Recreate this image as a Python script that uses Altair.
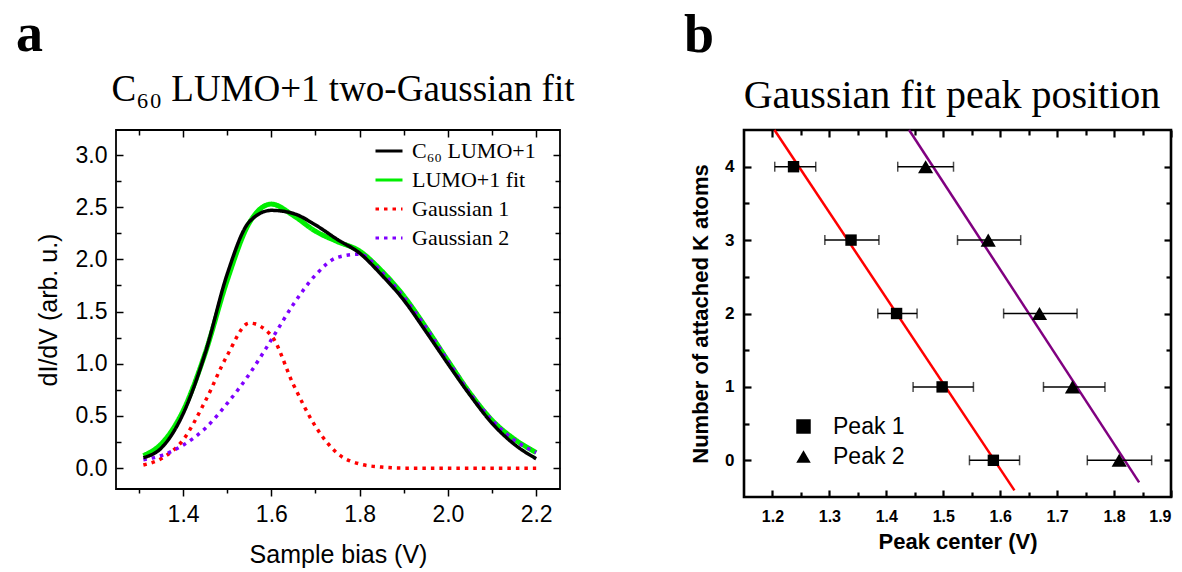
import altair as alt
import pandas as pd

# ---------------- Panel a data ----------------
bias_v = [1.31, 1.35, 1.40, 1.45, 1.50, 1.55, 1.60, 1.65, 1.70, 1.75,
          1.80, 1.85, 1.90, 1.95, 2.00, 2.05, 2.10, 2.15, 2.20]
lumo_measured = [0.10, 0.19, 0.52, 1.10, 1.86, 2.36, 2.47, 2.44, 2.33, 2.19,
                 2.06, 1.85, 1.61, 1.31, 1.00, 0.70, 0.43, 0.23, 0.09]
lumo_fit = [0.12, 0.23, 0.55, 1.10, 1.80, 2.35, 2.53, 2.42, 2.27, 2.17,
            2.08, 1.89, 1.65, 1.35, 1.03, 0.72, 0.46, 0.28, 0.15]
gauss_1 = [0.03, 0.09, 0.27, 0.64, 1.08, 1.39, 1.27, 0.80, 0.40, 0.14,
           0.04, 0.01, 0.0, 0.0, 0.0, 0.0, 0.0, 0.0, 0.0]
gauss_2 = [0.08, 0.12, 0.22, 0.38, 0.62, 0.90, 1.23, 1.57, 1.85, 2.02,
           2.05, 1.88, 1.64, 1.35, 1.03, 0.72, 0.46, 0.27, 0.15]

series_names = ["C\u2086\u2080 LUMO+1", "LUMO+1 fit", "Gaussian 1", "Gaussian 2"]
series_colors = ["#000000", "#00ee00", "#ff0000", "#8000ff"]
series_dash = [[1, 0], [1, 0], [3.5, 5], [3.5, 5]]

title_a = "C\u2086\u2080 LUMO+1 two-Gaussian fit"
title_b = "Gaussian fit peak position"

x_major_a = [1.4, 1.6, 1.8, 2.0, 2.2]
x_minor_a = [1.3, 1.5, 1.7, 1.9, 2.1]
y_major_a = [0.0, 0.5, 1.0, 1.5, 2.0, 2.5, 3.0]
y_minor_a = [0.25, 0.75, 1.25, 1.75, 2.25, 2.75]

# ---------------- Panel b data ----------------
k_atoms = [0, 1, 2, 3, 4]
peak1_center = [1.588, 1.498, 1.418, 1.338, 1.237]
peak1_lo = [1.546, 1.447, 1.385, 1.292, 1.204]
peak1_hi = [1.634, 1.553, 1.454, 1.387, 1.276]
peak2_center = [1.809, 1.727, 1.669, 1.579, 1.469]
peak2_lo = [1.753, 1.676, 1.606, 1.525, 1.420]
peak2_hi = [1.866, 1.784, 1.735, 1.636, 1.518]
fit1_x = [1.2035, 1.625]
fit1_y = [4.5, -0.41]
fit2_x = [1.440, 1.844]
fit2_y = [4.5, -0.30]
peak_names = ["Peak 1", "Peak 2"]

x_major_b = [1.2, 1.3, 1.4, 1.5, 1.6, 1.7, 1.8, 1.9]
x_minor_b = [1.25, 1.35, 1.45, 1.55, 1.65, 1.75, 1.85]
y_major_b = [0, 1, 2, 3, 4]
y_minor_b = [0.5, 1.5, 2.5, 3.5]

# ---------------- tables ----------------
rows = []
for name, vals in zip(series_names, [lumo_measured, lumo_fit, gauss_1, gauss_2]):
    for xv, yv in zip(bias_v, vals):
        rows.append({"series": name, "bias": xv, "didv": yv})
df_a = pd.DataFrame(rows)

rows = []
for name, c, lo, hi in [(peak_names[0], peak1_center, peak1_lo, peak1_hi),
                        (peak_names[1], peak2_center, peak2_lo, peak2_hi)]:
    for k, cv, l, h in zip(k_atoms, c, lo, hi):
        rows.append({"peak": name, "k": k, "center": cv, "lo": l, "hi": h})
df_b = pd.DataFrame(rows)

df_fit = pd.DataFrame(
    [{"peak": peak_names[0], "x": xv, "y": yv} for xv, yv in zip(fit1_x, fit1_y)]
    + [{"peak": peak_names[1], "x": xv, "y": yv} for xv, yv in zip(fit2_x, fit2_y)]
)


def tick_axis(orient, values, size, width, **kw):
    """Inward-pointing ticks (axis moved inside the frame by its tick length)."""
    params = dict(orient=orient, values=values, tickSize=size, offset=-size,
                  tickWidth=width, tickColor="black", domain=False, grid=False,
                  labels=False, title=None)
    params.update(kw)
    return alt.Axis(**params)


def text_layer(txt, x, y, font, size, weight):
    return alt.Chart(pd.DataFrame({"lab": [txt]})).mark_text(
        font=font, fontSize=size, fontWeight=weight, align="left" if len(txt) == 1 else "center",
        baseline="alphabetic", color="black"
    ).encode(x=alt.value(x), y=alt.value(y), text="lab:N")


# ================= Panel a =================
xs_a = alt.Scale(domain=[1.248, 2.254], nice=False, zero=False)
ys_a = alt.Scale(domain=[-0.2, 3.24], nice=False, zero=False)
color_scale = alt.Scale(domain=series_names, range=series_colors)
dash_scale = alt.Scale(domain=series_names, range=series_dash)
legend_a = alt.Legend(title=None, orient="none", legendX=258, legendY=6,
                      symbolType="stroke", symbolSize=729, symbolStrokeWidth=3,
                      labelFont="Liberation Serif", labelFontSize=22,
                      labelColor="black", labelOffset=8, rowPadding=3,
                      padding=0, labelLimit=300)

x_bottom_a = alt.Axis(orient="bottom", values=x_minor_a + x_major_a,
                      tickSize={"condition": {"test": "round(datum.value*10) % 2 == 0", "value": 7}, "value": 4},
                      tickWidth=1.5, tickColor="black", domain=False, grid=False,
                      labelExpr="round(datum.value*10) % 2 == 0 ? format(datum.value, '.1f') : ''",
                      labelFont="Liberation Sans", labelFontSize=23, labelColor="black",
                      labelPadding=7, title="Sample bias (V)", titleFont="Liberation Sans",
                      titleFontSize=25, titleFontWeight="normal", titleColor="black",
                      titlePadding=16)
y_left_a = tick_axis("left", y_major_a, 7, 1.5, labels=True, format=".1f",
                     labelFont="Liberation Sans", labelFontSize=23, labelColor="black",
                     labelPadding=9, title="dI/dV (arb. u.)", titleFont="Liberation Sans",
                     titleFontSize=25, titleFontWeight="normal", titleColor="black",
                     titlePadding=14)


def curve_layer(name, width, x_axis=None, y_axis=None):
    return alt.Chart(df_a).transform_filter(
        alt.datum.series == name
    ).mark_line(strokeWidth=width, interpolate="monotone", strokeCap="butt").encode(
        x=alt.X("bias:Q", scale=xs_a, axis=x_axis),
        y=alt.Y("didv:Q", scale=ys_a, axis=y_axis),
        color=alt.Color("series:N", scale=color_scale, legend=legend_a),
        strokeDash=alt.StrokeDash("series:N", scale=dash_scale, legend=legend_a),
    )


def ghost_a(x_axis, y_axis):
    return alt.Chart(df_a).mark_point(opacity=0).encode(
        x=alt.X("bias:Q", scale=xs_a, axis=x_axis),
        y=alt.Y("didv:Q", scale=ys_a, axis=y_axis),
    )


panel_a = alt.layer(
    curve_layer(series_names[1], 5, x_bottom_a, y_left_a),
    curve_layer(series_names[2], 3.5),
    curve_layer(series_names[3], 3.5),
    curve_layer(series_names[0], 3.5),
    ghost_a(tick_axis("top", x_major_a, 7, 1.5), tick_axis("right", y_major_a, 7, 1.5)),
    ghost_a(tick_axis("top", x_minor_a, 5, 1.5), tick_axis("left", y_minor_a, 5, 1.5)),
    ghost_a(None, tick_axis("right", y_minor_a, 5, 1.5)),
    text_layer("a", -100, -79, "Liberation Serif", 54, "bold"),
    text_layer(title_a, 227, -29, "Liberation Serif", 37, "normal"),
).resolve_axis(x="independent", y="independent").properties(
    width=444, height=359, view=alt.ViewBackground(stroke="black", strokeWidth=1.8))

# ================= Panel b =================
xs_b = alt.Scale(domain=[1.15, 1.9], nice=False, zero=False)
ys_b = alt.Scale(domain=[-0.5, 4.5], nice=False, zero=False)

x_bottom_b = tick_axis("bottom", x_major_b, 7, 2.2, labels=True, format=".1f",
                       labelFont="Liberation Sans", labelFontSize=16, labelFontWeight="bold",
                       labelColor="black", labelPadding=11, title="Peak center (V)",
                       titleFont="Liberation Sans", titleFontSize=22, titleFontWeight="bold",
                       titleColor="black", titlePadding=7)
y_left_b = tick_axis("left", y_major_b, 7, 2.2, labels=True, format="d",
                     labelFont="Liberation Sans", labelFontSize=17, labelFontWeight="bold",
                     labelColor="black", labelPadding=10, title="Number of attached K atoms",
                     titleFont="Liberation Sans", titleFontSize=22, titleFontWeight="bold",
                     titleColor="black", titlePadding=12)

fit_colors = ["#ff0000", "#800080"]


def fit_layer(name, colr, x_axis=None, y_axis=None):
    return alt.Chart(df_fit).transform_filter(alt.datum.peak == name).mark_line(
        color=colr, strokeWidth=2.5
    ).encode(
        x=alt.X("x:Q", scale=xs_b, axis=x_axis),
        y=alt.Y("y:Q", scale=ys_b, axis=y_axis),
    )


err_rule = alt.Chart(df_b).mark_rule(color="black", strokeWidth=1.5).encode(
    x=alt.X("lo:Q", scale=xs_b, axis=None), x2="hi:Q",
    y=alt.Y("k:Q", scale=ys_b, axis=None),
)
cap_lo = alt.Chart(df_b).mark_tick(orient="vertical", size=10, thickness=1.5, color="black").encode(
    x=alt.X("lo:Q", scale=xs_b, axis=None), y=alt.Y("k:Q", scale=ys_b, axis=None))
cap_hi = alt.Chart(df_b).mark_tick(orient="vertical", size=10, thickness=1.5, color="black").encode(
    x=alt.X("hi:Q", scale=xs_b, axis=None), y=alt.Y("k:Q", scale=ys_b, axis=None))

# legends of a concatenated chart sit in the top-level group (origin = panel a's plot)
legend_b = alt.Legend(title=None, orient="none", legendX=676, legendY=285,
                      symbolSize=210, symbolFillColor="black", symbolStrokeColor="black",
                      labelFont="Liberation Sans", labelFontSize=23,
                      labelColor="black", labelOffset=18, rowPadding=6, padding=0)
shape_scale = alt.Scale(domain=peak_names, range=["square", "triangle-up"])


def points_layer(name, size):
    return alt.Chart(df_b).transform_filter(alt.datum.peak == name).mark_point(
        filled=True, color="black", opacity=1, size=size
    ).encode(
        x=alt.X("center:Q", scale=xs_b, axis=None),
        y=alt.Y("k:Q", scale=ys_b, axis=None),
        shape=alt.Shape("peak:N", scale=shape_scale, legend=legend_b),
    )


def ghost_b(x_axis, y_axis):
    return alt.Chart(df_b).mark_point(opacity=0).encode(
        x=alt.X("center:Q", scale=xs_b, axis=x_axis),
        y=alt.Y("k:Q", scale=ys_b, axis=y_axis),
    )


panel_b = alt.layer(
    fit_layer(peak_names[0], fit_colors[0], x_bottom_b, y_left_b),
    fit_layer(peak_names[1], fit_colors[1]),
    err_rule, cap_lo, cap_hi,
    points_layer(peak_names[0], 130),
    points_layer(peak_names[1], 230),
    ghost_b(tick_axis("top", x_major_b, 7, 2.2), tick_axis("right", y_major_b, 7, 2.2)),
    ghost_b(tick_axis("bottom", x_minor_b, 5, 2.2), tick_axis("left", y_minor_b, 5, 2.2)),
    ghost_b(tick_axis("top", x_minor_b, 5, 2.2), tick_axis("right", y_minor_b, 5, 2.2)),
    text_layer("b", -60, -78, "Liberation Serif", 54, "bold"),
    text_layer(title_b, 208, -22, "Liberation Serif", 40, "normal"),
).resolve_axis(x="independent", y="independent").properties(
    width=427, height=367, view=alt.ViewBackground(stroke="black", strokeWidth=2.6))

chart = alt.hconcat(panel_a, panel_b, spacing=184, bounds="flush").properties(
    padding={"left": 15, "top": 7, "right": 5, "bottom": 5},
    background="white",
).configure_view(stroke="black", strokeWidth=2)

chart.save("out.html", embed_options={"renderer": "svg", "actions": False})
